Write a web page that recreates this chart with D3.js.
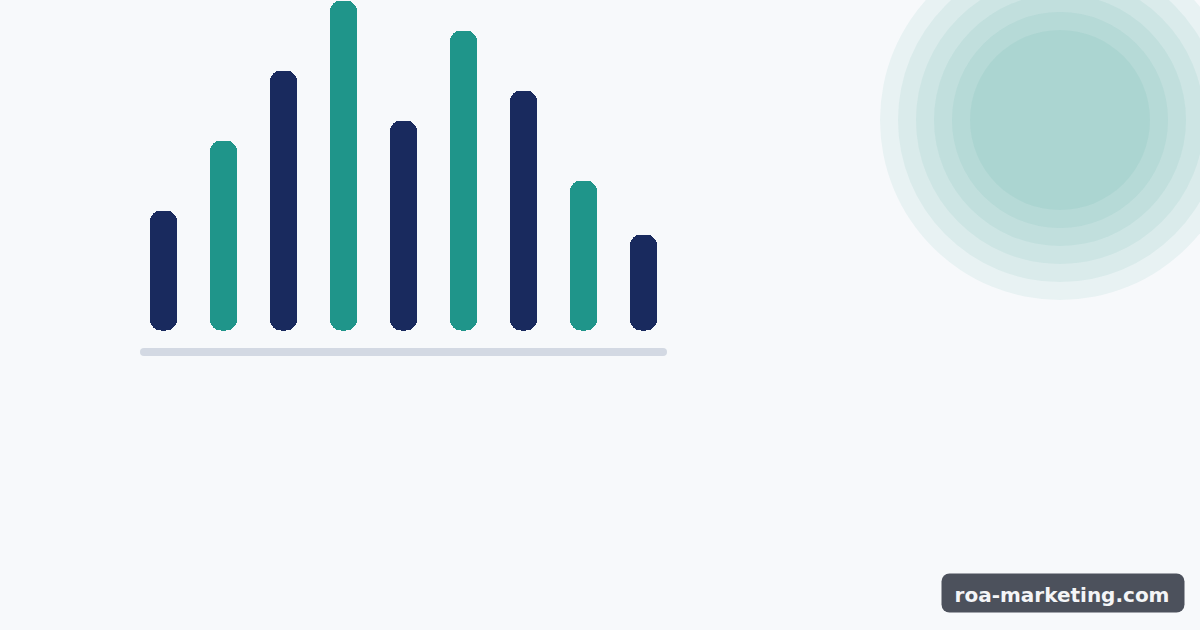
<!DOCTYPE html>
<html><head><meta charset="utf-8">
<script src="https://cdn.jsdelivr.net/npm/d3@7"></script>
<style>html,body{margin:0;padding:0;background:#f7f9fb;}svg{display:block;}</style>
</head><body>
<svg id="c" width="1200" height="630"></svg>
<script>
const categories = ["1","2","3","4","5","6","7","8","9"];
const values = [120, 190, 260, 330, 210, 300, 240, 150, 96];
const seriesColors = ["#192a5e", "#1f958a"];
const ringRadii = [180, 162, 144, 126, 108, 90];
const badgeText = "roa-marketing.com";

const svg = d3.select("#c");
svg.append("rect").attr("width",1200).attr("height",630).attr("fill","#f7f9fb");

// concentric rings
svg.append("g").selectAll("circle").data(ringRadii).join("circle")
  .attr("cx",1060).attr("cy",120).attr("r",d=>d)
  .attr("fill","#1f958a").attr("fill-opacity",0.068);

const x = d3.scaleBand().domain(categories).range([140,667]).paddingInner(0.55).paddingOuter(1/6);
const y = d3.scaleLinear().domain([0,330]).range([330.5,0.5]);

svg.append("rect").attr("x",x.range()[0]).attr("y",348).attr("width",x.range()[1]-x.range()[0]).attr("height",8)
  .attr("rx",4).attr("fill","#d3d9e3");

svg.append("g").attr("shape-rendering","crispEdges").selectAll("rect").data(values).join("rect")
  .attr("x",(d,i)=>x(categories[i])).attr("width",x.bandwidth())
  .attr("y",d=>y(d)).attr("height",d=>y(0)-y(d))
  .attr("rx",11).attr("fill",(d,i)=>seriesColors[i%2]);

const badge = svg.append("g");
badge.append("rect").attr("x",941.5).attr("y",573.5).attr("width",243).attr("height",39).attr("rx",8).attr("fill","#4c515c");
badge.append("text").attr("x",1062).attr("y",602).attr("text-anchor","middle")
  .attr("font-family","DejaVu Sans").attr("font-weight","bold").attr("font-size",20)
  .attr("fill","#f4f5f7").text(badgeText);
</script>
</body></html>
